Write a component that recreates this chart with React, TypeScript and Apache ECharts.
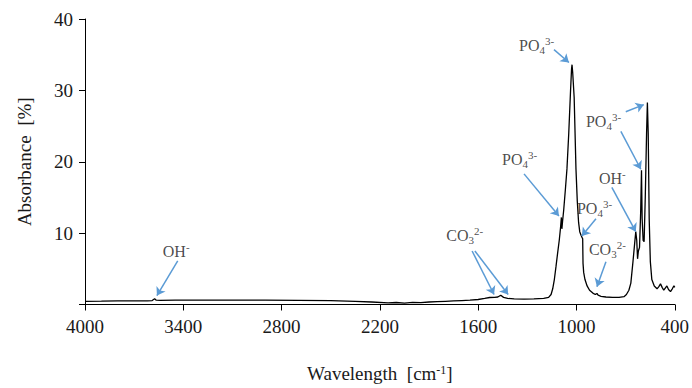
import React, { useEffect, useRef } from "react";
import * as echarts from "echarts";

// FTIR spectrum (wavenumber in cm-1, absorbance in %)
const wavenumber = [
  4000, 3900, 3800, 3700, 3620, 3590, 3575, 3565, 3540, 3450, 3300, 3100, 2900, 2700, 2500, 2350,
  2250, 2150, 2100, 2050, 2000, 1950, 1900, 1850, 1800, 1750, 1700, 1650, 1600, 1560, 1530, 1500,
  1480, 1462, 1445, 1420, 1380, 1320, 1260, 1200, 1170, 1155, 1145, 1135, 1125, 1115, 1105, 1097,
  1092, 1089, 1085, 1078, 1068, 1058, 1047, 1036, 1030, 1027, 1023, 1014, 1003, 995, 987, 980,
  972, 966, 962, 960, 956, 948, 935, 920, 900, 885, 875, 868, 850, 820, 780, 740,
  710, 695, 680, 668, 655, 645, 638, 632, 627, 622, 615, 608, 603, 599, 593, 587,
  580, 572, 567, 562, 556, 549, 540, 525, 508, 497, 487, 477, 467, 458, 448, 438,
  426, 415, 405, 400,
];
const absorbance = [
  0.45, 0.47, 0.5, 0.5, 0.52, 0.55, 0.8, 0.6, 0.58, 0.6, 0.62, 0.62, 0.6, 0.58, 0.55, 0.45,
  0.35, 0.22, 0.28, 0.2, 0.3, 0.25, 0.35, 0.4, 0.45, 0.5, 0.55, 0.6, 0.7, 0.85, 0.98, 1.0,
  1.05, 1.3, 1.0, 0.85, 0.78, 0.75, 0.78, 0.85, 1.0, 1.4, 2.2, 3.5, 5.3, 7.2, 9.0, 10.8,
  12.2, 10.6, 11.6, 13.2, 16, 19, 24, 30, 33, 33.6, 32.5, 29, 19, 14.5, 11.5, 10.2,
  9.7, 9.4, 9.2, 5.8, 4.5, 3.5, 2.6, 2.0, 1.6, 1.4, 1.55, 1.3, 1.15, 1.05, 1.0, 1.0,
  1.1, 1.4, 2.0, 3.0, 6.0, 8.5, 10.2, 9.0, 6.4, 7.5, 8.0, 13, 18.8, 12, 9.0, 8.8,
  15, 24, 28.3, 24, 12, 6, 3.5, 2.6, 2.2, 2.5, 2.9, 2.4, 2.0, 2.3, 2.6, 2.1,
  1.8, 2.2, 2.6, 2.4,
];

const xTicks = [400, 1000, 1600, 2200, 2800, 3400, 4000];
const yTicks = [0, 10, 20, 30, 40];

// Band annotations (label anchor in data coordinates)
const labelKinds = ["OH", "CO3", "PO4", "PO4", "PO4", "OH", "PO4", "CO3"];
const labelX = [3525, 1795, 1350, 1454, 942, 863, 997, 924];
const labelY = [7.4, 9.6, 36.3, 20.35, 25.6, 17.6, 13.4, 7.7];

// Arrows (from -> to, data coordinates)
const arrowFromX = [3434, 1637, 1620, 1137, 1320, 699, 729, 784, 881, 820];
const arrowFromY = [6.1, 7.5, 7.5, 35.7, 18.3, 27.0, 24.25, 16.4, 12.0, 6.0];
const arrowToX = [3561, 1503, 1417, 1046, 1107, 589, 607, 638, 967, 875];
const arrowToY = [1.25, 1.4, 1.4, 33.9, 12.4, 28.0, 18.95, 10.2, 9.6, 2.5];

const FONT = "'Liberation Serif', 'Times New Roman', serif";
const INK = "#1a1a1a";
const ARROW = "#5b9bd5";

const richFor: Record<string, string> = {
  PO4: "{b|PO}{sub|4}{sup|3-}",
  OH: "{b|OH}{sup|-}",
  CO3: "{b|CO}{sub|3}{sup|2-}",
};

export default function App() {
  const ref = useRef<HTMLDivElement>(null);
  useEffect(() => {
    if (!ref.current) return;
    const chart = echarts.init(ref.current, null, { renderer: "svg" });
    const lineData = wavenumber.map((w, i) => [w, absorbance[i]]);
    const labelData = labelKinds.map((k, i) => ({ name: k, value: [labelX[i], labelY[i]] }));
    const arrows = arrowFromX.map((x, i) => [
      { coord: [x, arrowFromY[i]] },
      { coord: [arrowToX[i], arrowToY[i]] },
    ]);
    chart.setOption({
      animation: false,
      textStyle: { fontFamily: FONT },
      grid: { left: 85, right: 16, top: 19, bottom: 82 },
      xAxis: {
        type: "value",
        min: 400,
        max: 4000,
        inverse: true,
        name: "Wavelength  [cm{sup|-1}]",
        nameLocation: "middle",
        nameGap: 59,
        nameTextStyle: {
          fontFamily: FONT,
          fontSize: 19,
          color: INK,
          rich: {
            sup: { fontFamily: FONT, fontSize: 12, color: INK, verticalAlign: "top", lineHeight: 20 },
          },
        },
        axisLine: { show: true, lineStyle: { color: "#000", width: 1 } },
        axisTick: { show: true, length: 6, lineStyle: { color: "#000" }, customValues: xTicks },
        axisLabel: {
          customValues: xTicks,
          fontFamily: FONT,
          fontSize: 19,
          color: INK,
          margin: 12,
          formatter: (v: number) => String(v),
        },
        splitLine: { show: false },
      },
      yAxis: {
        type: "value",
        min: 0,
        max: 40,
        interval: 10,
        name: "Absorbance  [%]",
        nameLocation: "middle",
        nameGap: 51,
        nameTextStyle: { fontFamily: FONT, fontSize: 19, color: INK },
        axisLine: { show: true, lineStyle: { color: "#000", width: 1 } },
        axisTick: { show: true, length: 6, lineStyle: { color: "#000" } },
        axisLabel: {
          fontFamily: FONT,
          fontSize: 19,
          color: INK,
          margin: 12,
          formatter: (v: number) => (v === yTicks[0] ? "" : String(v)),
        },
        splitLine: { show: false },
      },
      series: [
        {
          type: "line",
          data: lineData,
          showSymbol: false,
          smooth: false,
          lineStyle: { color: "#000", width: 1.3 },
          silent: true,
          z: 3,
        },
        {
          type: "scatter",
          data: labelData,
          symbolSize: 0,
          silent: true,
          z: 4,
          label: {
            show: true,
            position: "right",
            distance: 0,
            formatter: (p: any) => richFor[p.name],
            rich: {
              b: { fontFamily: FONT, fontSize: 16, color: INK, lineHeight: 20, verticalAlign: "middle" },
              sub: { fontFamily: FONT, fontSize: 11, color: INK, lineHeight: 16, verticalAlign: "bottom" },
              sup: { fontFamily: FONT, fontSize: 11, color: INK, lineHeight: 16, verticalAlign: "top" },
            },
          },
          markLine: {
            silent: true,
            symbol: ["none", "arrow"],
            symbolSize: 8,
            label: { show: false },
            lineStyle: { color: ARROW, width: 1.5, type: "solid" },
            emphasis: { disabled: true },
            data: arrows,
          },
        },
      ],
    });
    return () => chart.dispose();
  }, []);
  return (
    <div
      ref={ref}
      style={{ position: "fixed", left: 0, top: 0, width: 692, height: 388, background: "#fff" }}
    />
  );
}
